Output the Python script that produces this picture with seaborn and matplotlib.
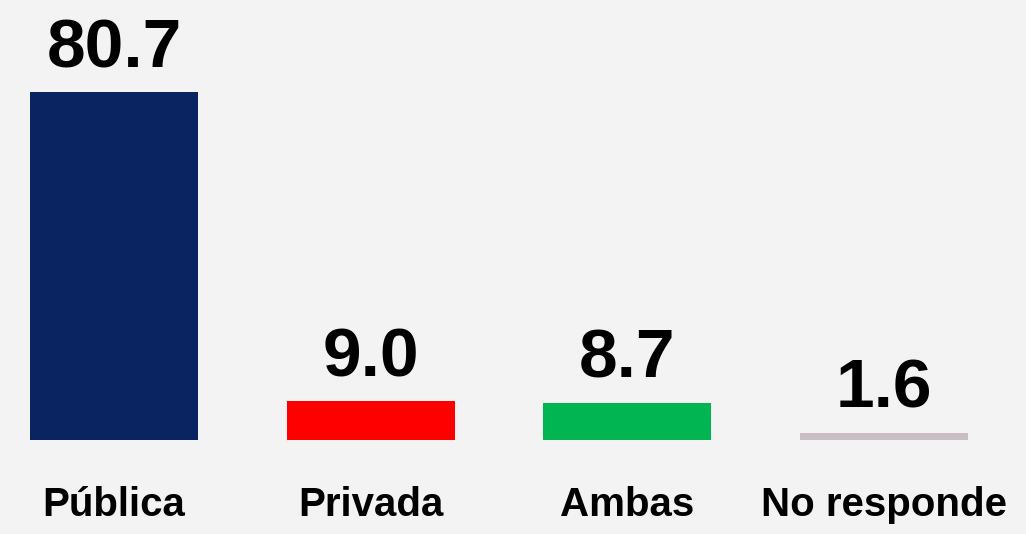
import matplotlib
matplotlib.use("Agg")
import pandas as pd
import seaborn as sns
from matplotlib import pyplot as plt

categories = ["Pública", "Privada", "Ambas", "No responde"]
values = [80.7, 9.0, 8.7, 1.6]
colors = ["#0a2462", "#ff0000", "#00b552", "#c9bec3"]

sns.set_theme(style="white")
plt.rcParams['font.family'] = ['Liberation Sans Narrow', 'Liberation Sans', 'DejaVu Sans']

df = pd.DataFrame({"tipo": categories, "pct": values})

fig = plt.figure(figsize=(10.26, 5.34), dpi=100)
fig.patch.set_facecolor("#f3f3f3")

ax = fig.add_axes([0, 94 / 534, 1, 440 / 534])
ax.set_facecolor("none")
sns.barplot(data=df, x="tipo", y="pct", hue="tipo", palette=colors,
            width=0.655, legend=False, ax=ax, saturation=1, linewidth=0)

for i, v in enumerate(values):
    ax.annotate(f"{v:.1f}", (i, v), xytext=(0, 8), textcoords="offset points",
                ha="center", va="bottom", fontsize=50, fontweight="bold", color="black")

ax.set_xlim(-0.444, 3.553)
ax.set_ylim(0, 102.1)
ax.set_xlabel("")
ax.set_ylabel("")
ax.set_yticks([])
ax.tick_params(axis="x", length=0, pad=33)
for lbl in ax.get_xticklabels():
    lbl.set_fontsize(29)
    lbl.set_fontweight("bold")
    lbl.set_color("black")
sns.despine(ax=ax, left=True, bottom=True)

fig.savefig("out.png", dpi=100, facecolor=fig.get_facecolor())
